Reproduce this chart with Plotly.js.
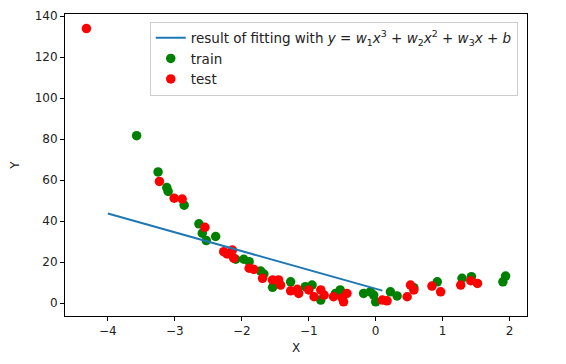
<!DOCTYPE html>
<html>
<head>
<meta charset="utf-8">
<script src="https://cdn.plot.ly/plotly-3.0.1.min.js"></script>
<style>html,body{margin:0;padding:0;background:#fff;}</style>
</head>
<body>
<div id="chart" style="width:566px;height:364px;"></div>
<script>
const trainX = [-3.57,-3.25,-3.12,-3.10,-2.86,-2.64,-2.59,-2.53,-2.39,-2.09,-1.97,-1.89,-1.72,-1.67,-1.54,-1.27,-1.05,-0.95,-0.82,-0.53,-0.60,-0.18,-0.08,-0.03,0.00,0.22,0.32,0.57,0.92,1.29,1.43,1.90,1.94];
const trainY = [81.7,64.0,56.4,54.5,47.8,38.7,34.1,30.5,32.5,21.4,21.4,20.2,15.7,14.2,7.7,10.4,8.0,8.8,1.5,6.4,4.7,4.7,5.5,3.9,0.6,5.5,3.5,7.5,10.4,12.1,12.9,10.4,13.2];
const testX = [-4.32,-3.23,-3.01,-2.89,-2.55,-2.27,-2.14,-2.22,-2.12,-1.89,-1.82,-1.69,-1.54,-1.45,-1.42,-1.27,-1.17,-1.15,-1.00,-0.92,-0.82,-0.77,-0.63,-0.43,-0.48,-0.50,0.10,0.17,0.47,0.52,0.57,0.84,0.97,1.27,1.42,1.52];
const testY = [134.0,59.4,51.2,50.8,37.0,25.1,25.9,24.0,21.9,17.0,16.5,12.1,11.3,11.3,8.8,6.0,6.7,4.7,6.4,3.1,6.4,3.9,3.1,4.7,0.6,2.5,1.5,1.1,3.1,8.8,6.4,8.3,5.5,8.8,10.9,9.6];
const fitX = [-4.0,-3.0,-2.0,-1.0,0.0,0.1];
const fitY = [43.7,34.5,25.3,16.2,7.0,6.1];
const xTicks = [-4,-3,-2,-1,0,1,2];
const yTicks = [0,20,40,60,80,100,120,140];
const fitName = 'result of fitting with <i>y</i> = <i>w</i><sub>1</sub><i>x</i><sup>3</sup> + <i>w</i><sub>2</sub><i>x</i><sup>2</sup> + <i>w</i><sub>3</sub><i>x</i> + <i>b</i>';

const data = [
  {x: trainX, y: trainY, type: 'scatter', mode: 'markers', name: 'train', legendrank: 2,
   marker: {color: '#008000', size: 9.5}},
  {x: testX, y: testY, type: 'scatter', mode: 'markers', name: 'test', legendrank: 3,
   marker: {color: '#ff0000', size: 9.5}},
  {x: fitX, y: fitY, type: 'scatter', mode: 'lines', name: fitName, legendrank: 1,
   line: {color: '#1f77b4', width: 2}}
];
const axisCommon = {
  showgrid: false, zeroline: false, showline: true, mirror: true,
  linecolor: '#000', linewidth: 1, ticks: 'outside', ticklen: 4, tickcolor: '#000',
  tickfont: {size: 12, color: '#222'}
};
const layout = {
  width: 566, height: 364,
  margin: {l: 65, r: 39, t: 14, b: 48},
  paper_bgcolor: '#fff', plot_bgcolor: '#fff',
  font: {family: 'DejaVu Sans', size: 12, color: '#222'},
  xaxis: Object.assign({}, axisCommon, {range: [-4.64, 2.26], tickvals: xTicks, ticktext: xTicks.map(v => v < 0 ? '\u2212' + Math.abs(v) : String(v)),
    title: {text: 'X', font: {size: 12}, standoff: 6}}),
  yaxis: Object.assign({}, axisCommon, {range: [-6.3, 141.1], tickvals: yTicks,
    title: {text: 'Y', font: {size: 12}, standoff: 12}}),
  showlegend: true,
  legend: {x: 0.98, y: 0.975, xanchor: 'right', yanchor: 'top', bgcolor: 'rgba(255,255,255,0.8)',
    bordercolor: '#cccccc', borderwidth: 1, font: {size: 13.5}, tracegroupgap: 0, itemwidth: 30}
};
Plotly.newPlot('chart', data, layout, {displayModeBar: false, staticPlot: true});
</script>
</body>
</html>
